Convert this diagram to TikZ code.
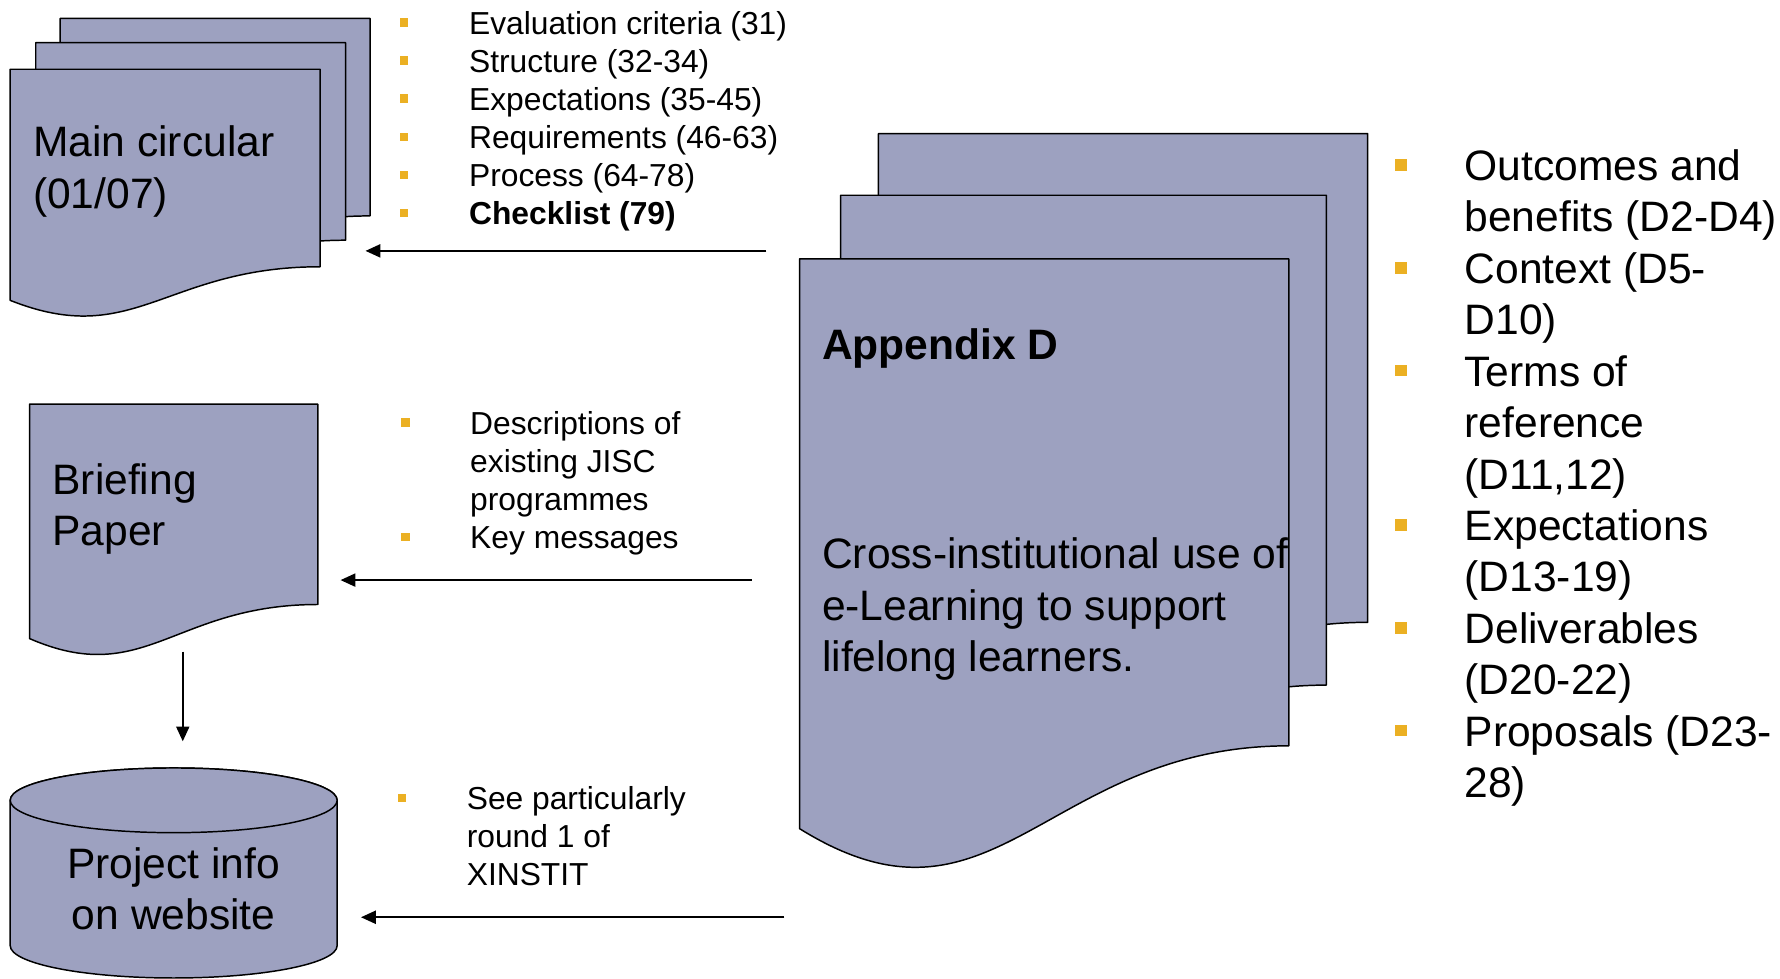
\documentclass[tikz,border=0pt]{standalone}
\usepackage{fontspec}
\setmainfont{Liberation Sans}
\usetikzlibrary{arrows.meta}
\definecolor{pagefill}{HTML}{9DA1C0}
\definecolor{bulletc}{HTML}{EBB023}
\newcommand{\sq}{\textcolor{bulletc}{\rule[0.23em]{0.27em}{0.27em}}}
\newcommand{\bi}{\makebox[61pt][l]{\sq}}
\newcommand{\ci}{\hspace*{61pt}}
% one page of a document: top-left x, y, width, straight height
\newcommand{\docpage}[4]{%
  \filldraw[page] (#1,#2) -- ({#1+#3},#2) -- ({#1+#3},{#2+#4})
    .. controls ({#1+0.5*#3},{#2+#4}) and ({#1+0.4*#3},{#2+1.42*#4}) .. (#1,{#2+1.17*#4}) -- cycle;}
\tikzset{
  page/.style={fill=pagefill, draw=black, line width=1.3pt, line join=round},
  bigtext/.style={font=\fontsize{37.5}{45.3}\selectfont, align=left, anchor=base west, inner sep=0pt},
  listsmall/.style={font=\fontsize{28}{33.6}\selectfont, align=left, anchor=base west, inner sep=0pt},
  listbig/.style={bigtext},
  arrow/.style={-{Triangle[length=13pt, width=11.5pt]}, line width=1.6pt},
}
\begin{document}
\begin{tikzpicture}[x=1pt, y=-1pt]
\useasboundingbox (0,0) rectangle (1568,862);
% main circular stack
\docpage{53}{16.2}{273}{174}
\docpage{31.5}{37.6}{273}{174}
\docpage{9}{61}{273}{174}
\node[bigtext] (circ) at (29,183.3) {Main circular\\(01/07)};
\node[listsmall] (circList) at (352,198) {\bi Evaluation criteria (31)\\\bi Structure (32-34)\\\bi Expectations (35-45)\\\bi Requirements (46-63)\\\bi Process (64-78)\\\bi\textbf{Checklist (79)}};
% briefing paper
\docpage{26}{356}{254}{176.5}
\node[bigtext] (brf) at (46,480.8) {Briefing\\Paper};
\node[listsmall] (brfList) at (353,483.3) {\bi Descriptions of\\\ci existing JISC\\\ci programmes\\\bi Key messages};
% website cylinder
\filldraw[page] (9,705) -- (9,833) arc (180:360:144pt and 28.5pt) -- (297,705) arc (0:180:144pt and 28.5pt) -- cycle;
\draw[page] (153,705) ellipse (144pt and 28.5pt);
\node[bigtext, align=center, anchor=base] (web) at (153,818.8) {Project info\\on website};
\node[listsmall] (webList) at (350,780.2) {\bi See particularly\\\ci round 1 of\\\ci XINSTIT};
% appendix D stack
\docpage{773.8}{117.7}{431}{430.5}
\docpage{740.4}{172}{428}{431.5}
\docpage{704.3}{228}{431}{429}
\node[bigtext] (appxTitle) at (724,317) {\textbf{Appendix D}};
\node[bigtext] (appx) at (724,591.6) {Cross-institutional use of\\e-Learning to support\\lifelong learners.};
\node[listbig] (appxList) at (1229,702.6) {\bi Outcomes and\\\ci benefits (D2-D4)\\\bi Context (D5-\\\ci D10)\\\bi Terms of\\\ci reference\\\ci (D11,12)\\\bi Expectations\\\ci (D13-19)\\\bi Deliverables\\\ci (D20-22)\\\bi Proposals (D23-\\\ci 28)};
% connectors
\coordinate (circIn) at (322,221);
\coordinate (appxOutA) at (675,221);
\coordinate (brfIn) at (300,511);
\coordinate (appxOutB) at (662,511);
\coordinate (webIn) at (318,808);
\coordinate (appxOutC) at (691,808);
\coordinate (brfOut) at (161,574);
\coordinate (webTop) at (161,653);
\draw[arrow] (appxOutA) -- (circIn);
\draw[arrow] (appxOutB) -- (brfIn);
\draw[arrow] (appxOutC) -- (webIn);
\draw[arrow] (brfOut) -- (webTop);
\end{tikzpicture}
\end{document}
